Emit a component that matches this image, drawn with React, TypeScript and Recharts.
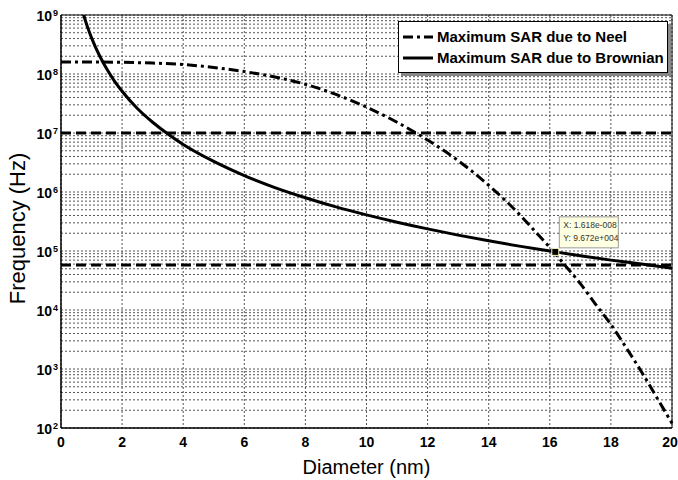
import React from 'react';
import {
  LineChart,
  Line,
  XAxis,
  YAxis,
  CartesianGrid,
  Legend,
  ReferenceLine,
  ReferenceDot,
  ReferenceArea,
} from 'recharts';

// diameter axis (nm)
const diameterTicks = [0, 2, 4, 6, 8, 10, 12, 14, 16, 18, 20];

// frequency axis (Hz), log grid: decades x 1..9
const decades = [1e2, 1e3, 1e4, 1e5, 1e6, 1e7, 1e8];
const minorSteps = [1, 2, 3, 4, 5, 6, 7, 8, 9];
const topDecade = 1e9;

// series names, in legend order
const seriesNames = ['Maximum SAR due to Neel', 'Maximum SAR due to Brownian'];

// Neel curve
const neelD = [0, 1, 2, 3, 4, 5, 6, 7, 8, 9, 10, 11, 12, 13, 14, 15, 15.5, 16, 16.5, 17, 17.5, 18, 18.5, 19, 19.5, 20];
const neelF = [
  1.6e8, 1.6e8, 1.58e8, 1.53e8, 1.45e8, 1.29e8, 1.1e8, 8.9e7, 6.7e7, 4.5e7, 2.75e7, 1.52e7, 7.6e6,
  3.4e6, 1.3e6, 4.2e5, 2.2e5, 1.15e5, 5.7e4, 2.8e4, 1.25e4, 5.7e3, 2.3e3, 9.0e2, 3.3e2, 1.2e2,
];

// Brownian curve
const brownD = [0.7, 0.75, 0.8, 0.9, 1, 1.25, 1.5, 1.75, 2, 2.5, 3, 3.5, 4, 5, 6, 7, 8, 9, 10, 11, 12, 13, 14, 15, 16, 17, 18, 19, 20];
const brownF = [
  1.19e9, 9.7e8, 8.0e8, 5.6e8, 4.1e8, 2.1e8, 1.21e8, 7.6e7, 5.1e7, 2.6e7, 1.52e7, 9.6e6, 6.4e6, 3.3e6,
  1.9e6, 1.19e6, 8.0e5, 5.6e5, 4.1e5, 3.08e5, 2.37e5, 1.86e5, 1.49e5, 1.21e5, 1.0e5, 8.3e4, 7.0e4, 6.0e4, 5.1e4,
];

// horizontal limit lines
const limitLevels = [1e7, 5.8e4];

// data tip
const tipX = 16.18;
const tipY = 9.672e4;
const tipLabels = ['X: 1.618e-008', 'Y: 9.672e+004'];

const neelData = neelD.map((d, i) => ({ d, f: neelF[i] }));
const brownData = brownD.map((d, i) => ({ d, f: brownF[i] }));
const freqGrid = [...decades.flatMap((dec) => minorSteps.map((m) => m * dec)), topDecade];

const FONT = 'Liberation Sans, Arial, sans-serif';

function YTick({ x, y, payload }: any) {
  const v = payload.value;
  const e = Math.round(Math.log10(v));
  if (Math.abs(Math.pow(10, e) - v) > v * 1e-6) return <g />;
  return (
    <g fontFamily={FONT} fontWeight="bold" fill="#000">
      <text x={x - 9} y={y + 6} textAnchor="end" fontSize={14}>
        10
      </text>
      <text x={x - 8} y={y + 1} textAnchor="start" fontSize={9}>
        {e}
      </text>
    </g>
  );
}

function XTick({ x, y, payload }: any) {
  return (
    <text x={x} y={y + 19} textAnchor="middle" fontFamily={FONT} fontWeight="bold" fontSize={14} fill="#000">
      {payload.value}
    </text>
  );
}

function YLabel({ viewBox }: any) {
  const cx = 17;
  const cy = viewBox.y + viewBox.height / 2 + 7;
  return (
    <text
      x={cx}
      y={cy}
      transform={`rotate(-90, ${cx}, ${cy})`}
      textAnchor="middle"
      dominantBaseline="central"
      fontFamily={FONT}
      fontSize={22}
      fill="#000"
    >
      Frequency (Hz)
    </text>
  );
}

function DataTip({ cx, cy }: any) {
  return (
    <g fontFamily={FONT}>
      <rect x={cx + 4} y={cy - 35} width={59} height={31} fill="#ffffe1" stroke="#999" />
      {tipLabels.map((t, i) => (
        <text key={i} x={cx + 8} y={cy - 24 + i * 13} fontSize={8.5} fill="#333">
          {t}
        </text>
      ))}
      <rect x={cx - 3.5} y={cy - 3.5} width={7} height={7} fill="#000" stroke="#ffffc8" />
    </g>
  );
}

function LegendBox({ payload }: any) {
  const items = [...(payload || [])].sort(
    (a: any, b: any) => seriesNames.indexOf(a.value) - seriesNames.indexOf(b.value)
  );
  return (
    <div
      style={{
        border: '1px solid #000',
        background: '#fff',
        boxShadow: '3px 3px 0 #888',
        padding: '4px 0 4px 4px',
        fontFamily: FONT,
        fontWeight: 'bold',
        fontSize: 15,
        lineHeight: '21px',
      }}
    >
      {items.map((p: any, i: number) => (
        <div key={i} style={{ display: 'flex', alignItems: 'center' }}>
          <svg width={32} height={8} style={{ marginRight: 2 }}>
            <line
              x1={0}
              y1={4}
              x2={30}
              y2={4}
              stroke="#000"
              strokeWidth={3}
              strokeDasharray={p.payload?.strokeDasharray}
            />
          </svg>
          <span>{p.value}</span>
        </div>
      ))}
    </div>
  );
}

export default function App() {
  return (
    <div style={{ position: 'absolute', left: 0, top: 0, width: 678, height: 480, background: '#fff' }}>
      <LineChart width={678} height={480} margin={{ top: 15, right: 6, bottom: 0, left: 0 }}>
        <CartesianGrid stroke="#555" strokeDasharray="2 2" />
        <XAxis
          dataKey="d"
          type="number"
          domain={[0, 20]}
          ticks={diameterTicks}
          height={52}
          tickSize={0}
          tickMargin={0}
          tick={<XTick />}
          stroke="#000"
          label={{
            value: 'Diameter (nm)',
            position: 'insideBottom',
            offset: 6,
            fontFamily: FONT,
            fontSize: 20,
            fill: '#000',
          }}
        />
        <YAxis
          dataKey="f"
          type="number"
          scale="log"
          domain={[100, 1e9]}
          allowDataOverflow
          ticks={freqGrid}
          interval={0}
          width={61}
          tickSize={0}
          tickMargin={0}
          tick={<YTick />}
          stroke="#000"
          label={<YLabel />}
        />
        <ReferenceArea x1={0} x2={20} y1={100} y2={1e9} fill="none" stroke="#000" strokeWidth={1} />
        {limitLevels.map((lv) => (
          <ReferenceLine key={lv} y={lv} stroke="#000" strokeWidth={3} strokeDasharray="10 5" />
        ))}
        <Line
          data={neelData}
          dataKey="f"
          name={seriesNames[0]}
          type="monotone"
          stroke="#000"
          strokeWidth={3}
          strokeDasharray="10 4 3 4"
          dot={false}
          isAnimationActive={false}
        />
        <Line
          data={brownData}
          dataKey="f"
          name={seriesNames[1]}
          type="monotone"
          stroke="#000"
          strokeWidth={3}
          dot={false}
          isAnimationActive={false}
        />
        <ReferenceDot x={tipX} y={tipY} ifOverflow="visible" shape={(p: any) => <DataTip {...p} />} />
        <Legend
          layout="horizontal"
          verticalAlign="middle"
          align="center"
          content={<LegendBox />}
          wrapperStyle={{ position: 'absolute', left: 398, top: 21, width: 270 }}
        />
      </LineChart>
    </div>
  );
}
